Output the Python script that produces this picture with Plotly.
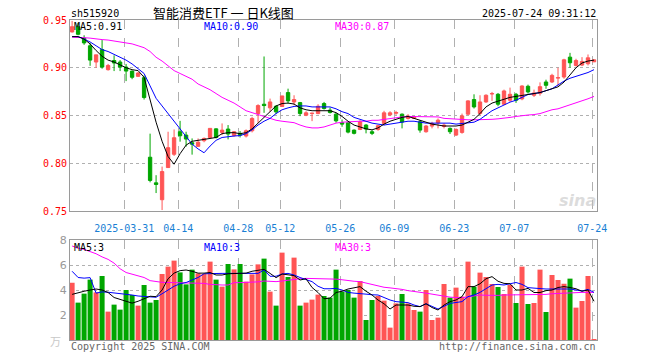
import plotly.graph_objects as go

dates = ["2025-03-18","2025-03-19","2025-03-20","2025-03-21","2025-03-24","2025-03-25","2025-03-26","2025-03-27","2025-03-28","2025-03-31",
         "2025-04-01","2025-04-02","2025-04-03","2025-04-07","2025-04-08","2025-04-09","2025-04-10","2025-04-11","2025-04-14","2025-04-15",
         "2025-04-16","2025-04-17","2025-04-18","2025-04-21","2025-04-22","2025-04-23","2025-04-24","2025-04-25","2025-04-28","2025-04-29",
         "2025-04-30","2025-05-06","2025-05-07","2025-05-08","2025-05-09","2025-05-12","2025-05-13","2025-05-14","2025-05-15","2025-05-16",
         "2025-05-19","2025-05-20","2025-05-21","2025-05-22","2025-05-23","2025-05-26","2025-05-27","2025-05-28","2025-05-29","2025-05-30",
         "2025-06-03","2025-06-04","2025-06-05","2025-06-06","2025-06-09","2025-06-10","2025-06-11","2025-06-12","2025-06-13","2025-06-16",
         "2025-06-17","2025-06-18","2025-06-19","2025-06-20","2025-06-23","2025-06-24","2025-06-25","2025-06-26","2025-06-27","2025-06-30",
         "2025-07-01","2025-07-02","2025-07-03","2025-07-04","2025-07-07","2025-07-08","2025-07-09","2025-07-10","2025-07-11","2025-07-14",
         "2025-07-15","2025-07-16","2025-07-17","2025-07-18","2025-07-21","2025-07-22","2025-07-23","2025-07-24"]

open_ = [.9375,.943,.931,.923,.906,.919,.898,.9076,.906,.9007,
         .8965,.891,.8896,.8063,.7795,.7618,.7955,.8094,.833,.8295,
         .8215,.8177,.8236,.827,.836,.8323,.8358,.829,.8313,.8285,
         .834,.8521,.8618,.858,.8597,.8594,.874,.8642,.8635,.8503,
         .852,.852,.8625,.8556,.8514,.8424,.8424,.8347,.8354,.840,
         .833,.8354,.8417,.8507,.8524,.8514,.8469,.847,.8434,.833,
         .8389,.8424,.8385,.8365,.8295,.8323,.8514,.8667,.8521,.8642,
         .8726,.8722,.8618,.866,.8722,.8674,.8806,.8712,.8733,.8851,
         .8851,.8892,.8903,.9111,.9024,.9028,.9042,.9062]
high = [.949,.947,.934,.926,.9135,.929,.904,.913,.908,.904,
        .897,.8955,.892,.831,.7875,.7965,.833,.8354,.8444,.833,
        .826,.826,.827,.8365,.8365,.8417,.840,.8337,.8337,.8354,
        .8486,.8618,.9118,.8677,.8608,.8705,.8781,.8712,.8642,.8545,
        .8528,.8618,.8642,.8583,.8528,.8458,.8424,.8354,.8451,.841,
        .8347,.840,.8549,.8545,.8549,.8521,.8514,.8493,.8451,.840,
        .8434,.8469,.8417,.8375,.8365,.852,.866,.8722,.8712,.8722,
        .8747,.8736,.8771,.8792,.8736,.8816,.8823,.8771,.8847,.8875,
        .8937,.900,.9094,.9156,.9094,.9111,.9139,.9083]
low = [.937,.934,.924,.902,.900,.899,.897,.8965,.8965,.886,
       .888,.8906,.8667,.780,.7688,.751,.795,.8076,.8226,.8174,
       .809,.8174,.822,.826,.826,.8295,.825,.8278,.827,.827,
       .8323,.8424,.8528,.8538,.8514,.8594,.8625,.8608,.8493,.8493,
       .8441,.8514,.8562,.8521,.8424,.8382,.8313,.8302,.8347,.8313,
       .8295,.834,.840,.8493,.8507,.8365,.8458,.8465,.832,.832,
       .8365,.8365,.8365,.8306,.8285,.8309,.8503,.8573,.8503,.8632,
       .8653,.8597,.8608,.8642,.8632,.866,.873,.8694,.8708,.878,
       .884,.881,.8885,.900,.9014,.9017,.9024,.906]
close = [.943,.935,.926,.908,.9135,.9007,.9024,.905,.9007,.8965,
         .890,.8945,.8688,.782,.7778,.7913,.8163,.8267,.8288,.8253,
         .820,.822,.826,.8365,.827,.8347,.8306,.833,.8295,.834,
         .8469,.8604,.8604,.8642,.8538,.8705,.8653,.8667,.852,.8528,
         .8524,.8597,.8573,.8531,.8444,.841,.8326,.8313,.8434,.8358,
         .8313,.8393,.8528,.8528,.8531,.8431,.8493,.8486,.8347,.839,
         .8417,.8451,.8399,.833,.8354,.8496,.8653,.859,.8642,.8712,
         .8729,.8618,.8757,.8722,.866,.8809,.8747,.8736,.8802,.8816,
         .892,.8896,.9083,.9052,.9076,.9066,.9104,.9083]

ma5 = [.9326,.9326,.930,.925,.918,.912,.908,.906,.903,.900,
       .898,.897,.890,.866,.843,.823,.807,.799,.810,.819,
       .823,.824,.825,.826,.827,.831,.832,.832,.831,.832,
       .836,.842,.848,.853,.860,.8625,.863,.862,.858,.856,
       .855,.855,.855,.855,.853,.849,.844,.840,.838,.836,
       .835,.837,.841,.844,.846,.848,.849,.847,.845,.843,
       .841,.840,.839,.839,.839,.840,.843,.846,.852,.859,
       .863,.865,.867,.869,.870,.871,.872,.873,.874,.876,
       .878,.880,.885,.893,.900,.905,.907,.908]
ma10 = [.9326,.9326,.930,.927,.923,.919,.917,.914,.911,.908,
        .904,.899,.894,.881,.868,.860,.852,.843,.835,.827,
        .820,.815,.811,.818,.824,.827,.828,.8285,.829,.831,
        .835,.840,.844,.847,.852,.856,.858,.8595,.860,.860,
        .859,.859,.859,.859,.857,.854,.852,.848,.846,.844,
        .842,.841,.840,.841,.842,.843,.844,.844,.843,.842,
        .842,.842,.842,.842,.841,.8415,.842,.843,.846,.851,
        .855,.858,.861,.864,.866,.869,.872,.873,.874,.876,
        .878,.882,.886,.889,.891,.893,.895,.898]
ma30 = [.932,.932,.9315,.931,.930,.9295,.929,.928,.927,.926,
        .925,.923,.921,.917,.911,.907,.902,.897,.894,.891,
        .888,.883,.880,.877,.873,.869,.866,.863,.859,.855,
        .853,.851,.849,.847,.845,.844,.843,.8425,.840,.838,
        .837,.837,.838,.840,.842,.843,.8435,.844,.844,.844,
        .845,.845,.846,.847,.848,.8485,.849,.849,.849,.849,
        .849,.8485,.847,.8465,.846,.846,.8455,.8455,.8455,.846,
        .846,.8465,.847,.848,.849,.850,.8505,.851,.852,.854,
        .856,.857,.859,.861,.863,.865,.8675,.870]

volume = [4.58,2.99,3.71,4.83,3.81,5.12,2.27,2.83,2.43,4.0,
          3.6,2.75,4.4,2.99,3.2,5.28,5.87,6.35,5.41,4.45,
          5.63,5.33,5.28,6.27,4.83,4.27,6.08,5.65,6.08,4.67,
          5.25,6.05,6.51,3.87,2.75,6.99,5.04,6.59,2.75,2.99,
          3.23,3.63,3.52,3.39,5.63,3.87,4.0,3.39,4.72,1.6,
          3.2,3.52,3.15,0.99,2.93,3.68,2.93,2.4,2.27,4.0,
          1.6,1.79,4.48,3.39,4.19,3.47,6.27,4.27,5.39,5.04,
          4.48,4.24,3.68,4.4,2.96,5.87,2.88,2.96,5.63,2.24,
          5.2,4.8,4.5,4.91,2.59,3.12,5.12,0.08]
vma5 = [3.65,3.8,3.9,4.0,4.08,4.0,3.8,3.4,3.25,3.1,
        2.95,3.1,3.3,3.5,3.47,4.0,4.9,5.35,5.55,5.6,
        5.5,5.35,5.35,5.4,5.2,5.2,5.3,5.33,5.33,5.35,
        5.5,5.6,5.65,5.33,4.99,5.28,5.2,5.15,4.8,4.9,
        4.2,3.8,3.3,3.35,3.8,3.9,4.08,4.15,4.27,3.9,
        3.6,3.2,2.9,2.48,2.8,2.8,2.8,2.7,2.67,2.9,
        2.6,2.4,2.8,3.07,3.2,3.47,4.27,4.27,4.5,4.9,
        5.07,4.7,4.53,4.5,4.0,4.0,4.13,3.8,3.8,3.95,
        4.0,4.2,4.27,4.2,4.1,3.9,4.0,3.1]
vma10 = [5.5,5.0,4.95,4.99,3.75,3.85,3.82,3.78,3.72,3.65,
         3.6,3.52,3.5,3.47,3.42,3.7,4.0,4.3,4.5,4.6,
         4.8,5.0,5.3,5.33,5.33,5.33,5.33,5.33,5.33,5.33,
         5.33,5.33,5.6,5.1,5.1,5.28,5.33,5.2,5.0,4.85,
         4.67,4.3,4.1,4.1,4.13,4.0,3.81,3.75,3.73,3.67,
         3.62,3.6,3.4,3.2,3.07,3.03,2.99,2.8,2.67,2.9,
         2.7,2.48,2.7,2.93,3.0,3.07,3.47,3.6,3.81,4.1,
         4.4,4.45,4.4,4.5,4.6,4.45,4.19,4.15,4.1,4.08,
         4.08,4.08,4.08,4.08,4.0,3.92,4.05,3.81]
vma30 = [7.52,7.35,7.25,7.1,6.9,6.65,6.45,6.15,5.7,5.4,
         5.25,5.15,5.0,4.75,4.65,4.61,4.6,4.59,4.59,4.56,
         4.53,4.53,4.53,4.45,4.4,4.4,4.4,4.59,4.59,4.6,
         4.61,4.65,4.72,4.7,4.67,4.72,4.8,4.85,4.9,4.93,
         4.93,4.93,4.93,4.93,4.87,4.82,4.75,4.7,4.67,4.55,
         4.42,4.3,4.22,4.17,4.13,4.05,3.95,3.9,3.82,3.75,
         3.67,3.58,3.48,3.43,3.4,3.39,3.45,3.55,3.6,3.58,
         3.55,3.57,3.6,3.6,3.6,3.6,3.6,3.6,3.62,3.65,
         3.7,3.73,3.76,3.8,3.81,3.81,3.81,3.81]

tick_dates = ["2025-03-31","2025-04-14","2025-04-28","2025-05-12","2025-05-26",
              "2025-06-09","2025-06-23","2025-07-07","2025-07-24"]
tick_text = ["2025-03-31","04-14","04-28","05-12","05-26","06-09","06-23","07-07","07-24"]
price_ticks = [0.75, 0.80, 0.85, 0.90, 0.95]
vol_ticks = [2, 4, 6, 8]

RED = "#ff5555"
GREEN = "#00a600"
MONO = "DejaVu Sans Mono"
GRID_SHIFT = 0.3  # gridlines sit just left of the candle slot centre

idx = list(range(len(dates)))
tickvals = [dates.index(d) - GRID_SHIFT for d in tick_dates]
vol_colors = [RED if c >= o else GREEN for o, c in zip(open_, close)]

fig = go.Figure()
fig.add_trace(go.Candlestick(
    x=idx, open=open_, high=high, low=low, close=close,
    increasing=dict(line=dict(color=RED, width=1), fillcolor=RED),
    decreasing=dict(line=dict(color=GREEN, width=1), fillcolor=GREEN),
    whiskerwidth=0, hoverinfo="skip", xaxis="x", yaxis="y", showlegend=False))
for vals, col in [(ma30, "#ff00ff"), (ma10, "#0000ff"), (ma5, "#000000")]:
    fig.add_trace(go.Scatter(x=idx, y=vals, mode="lines", line=dict(color=col, width=1),
                             xaxis="x", yaxis="y", showlegend=False, hoverinfo="skip"))

fig.add_trace(go.Bar(x=idx, y=volume, marker=dict(color=vol_colors, line=dict(width=0)),
                     width=0.84, xaxis="x2", yaxis="y2", showlegend=False, hoverinfo="skip"))
for vals, col in [(vma30, "#ff00ff"), (vma10, "#0000ff"), (vma5, "#000000")]:
    fig.add_trace(go.Scatter(x=idx, y=vals, mode="lines", line=dict(color=col, width=1),
                             xaxis="x2", yaxis="y2", showlegend=False, hoverinfo="skip"))

axis_common = dict(showline=True, mirror=True, linecolor="#9a9a9a", linewidth=1,
                   zeroline=False, ticks="", gridcolor="#b0b0b0", gridwidth=1)

fig.update_layout(
    width=660, height=360,
    margin=dict(l=70, r=63, t=20, b=20),
    paper_bgcolor="white", plot_bgcolor="white",
    boxgap=0.2,
    xaxis=dict(domain=[0, 1], range=[-0.35, 87.5], anchor="y", tickvals=tickvals, ticktext=tick_text,
               tickfont=dict(family=MONO, size=10, color="#1a7fd4"), ticklabelstandoff=8,
               griddash="dash", rangeslider=dict(visible=False), **axis_common),
    yaxis=dict(domain=[129/320, 1], range=[0.75, 0.95], anchor="x", tickvals=price_ticks,
               tickformat=".2f", tickfont=dict(family=MONO, size=10, color="#ff0000"),
               griddash="dot", **axis_common),
    xaxis2=dict(domain=[0, 1], range=[-0.35, 87.5], anchor="y2", matches="x", tickvals=tickvals,
                showticklabels=False, griddash="dash", **axis_common),
    yaxis2=dict(domain=[0, 100/320], range=[0, 8], anchor="x2", tickvals=vol_ticks,
                tickfont=dict(family="DejaVu Sans", size=11, color="#999999"),
                griddash="dot", **axis_common),
)

def px_x(p):
    return (p - 70) / 527.0

def px_y(p):
    return (340 - p) / 320.0

ann = []
def add(text, x, y, xanchor, color, size=10, family=MONO):
    ann.append(dict(text=text, x=px_x(x), y=px_y(y), xref="paper", yref="paper",
                    xanchor=xanchor, yanchor="middle", showarrow=False,
                    font=dict(family=family, size=size, color=color)))

add("sh515920", 69, 13.5, "left", "#000000")
add("智能消费ETF 一 日K线图", 223, 12.5, "center", "#000000", 13, "Noto Sans CJK SC")
add("2025-07-24 09:31:12", 598, 13.5, "right", "#000000")
add("MA5:0.91", 72, 26, "left", "#000000")
add("MA10:0.90", 202, 26, "left", "#0000ff")
add("MA30:0.87", 333, 26, "left", "#ff00ff")
add("MA5:3", 72, 247, "left", "#000000")
add("MA10:3", 202, 247, "left", "#0000ff")
add("MA30:3", 333, 247, "left", "#ff00ff")
add("Copyright 2025 SINA.COM", 69, 346, "left", "#666666")
add("http://finance.sina.com.cn", 598, 346, "right", "#666666")
add("万", 63, 341, "right", "#c8c8c8", 11, "Noto Sans CJK SC")
ann.append(dict(text="<i><b>sina</b></i>", x=px_x(598), y=px_y(200), xref="paper", yref="paper",
                xanchor="right", yanchor="middle", showarrow=False,
                font=dict(family="DejaVu Sans", size=16, color="rgba(190,190,190,0.55)")))
fig.update_layout(annotations=ann)

fig.write_html("out.html", config={"displayModeBar": False},
               post_script="document.body.style.margin='0';document.body.style.overflow='hidden';")
